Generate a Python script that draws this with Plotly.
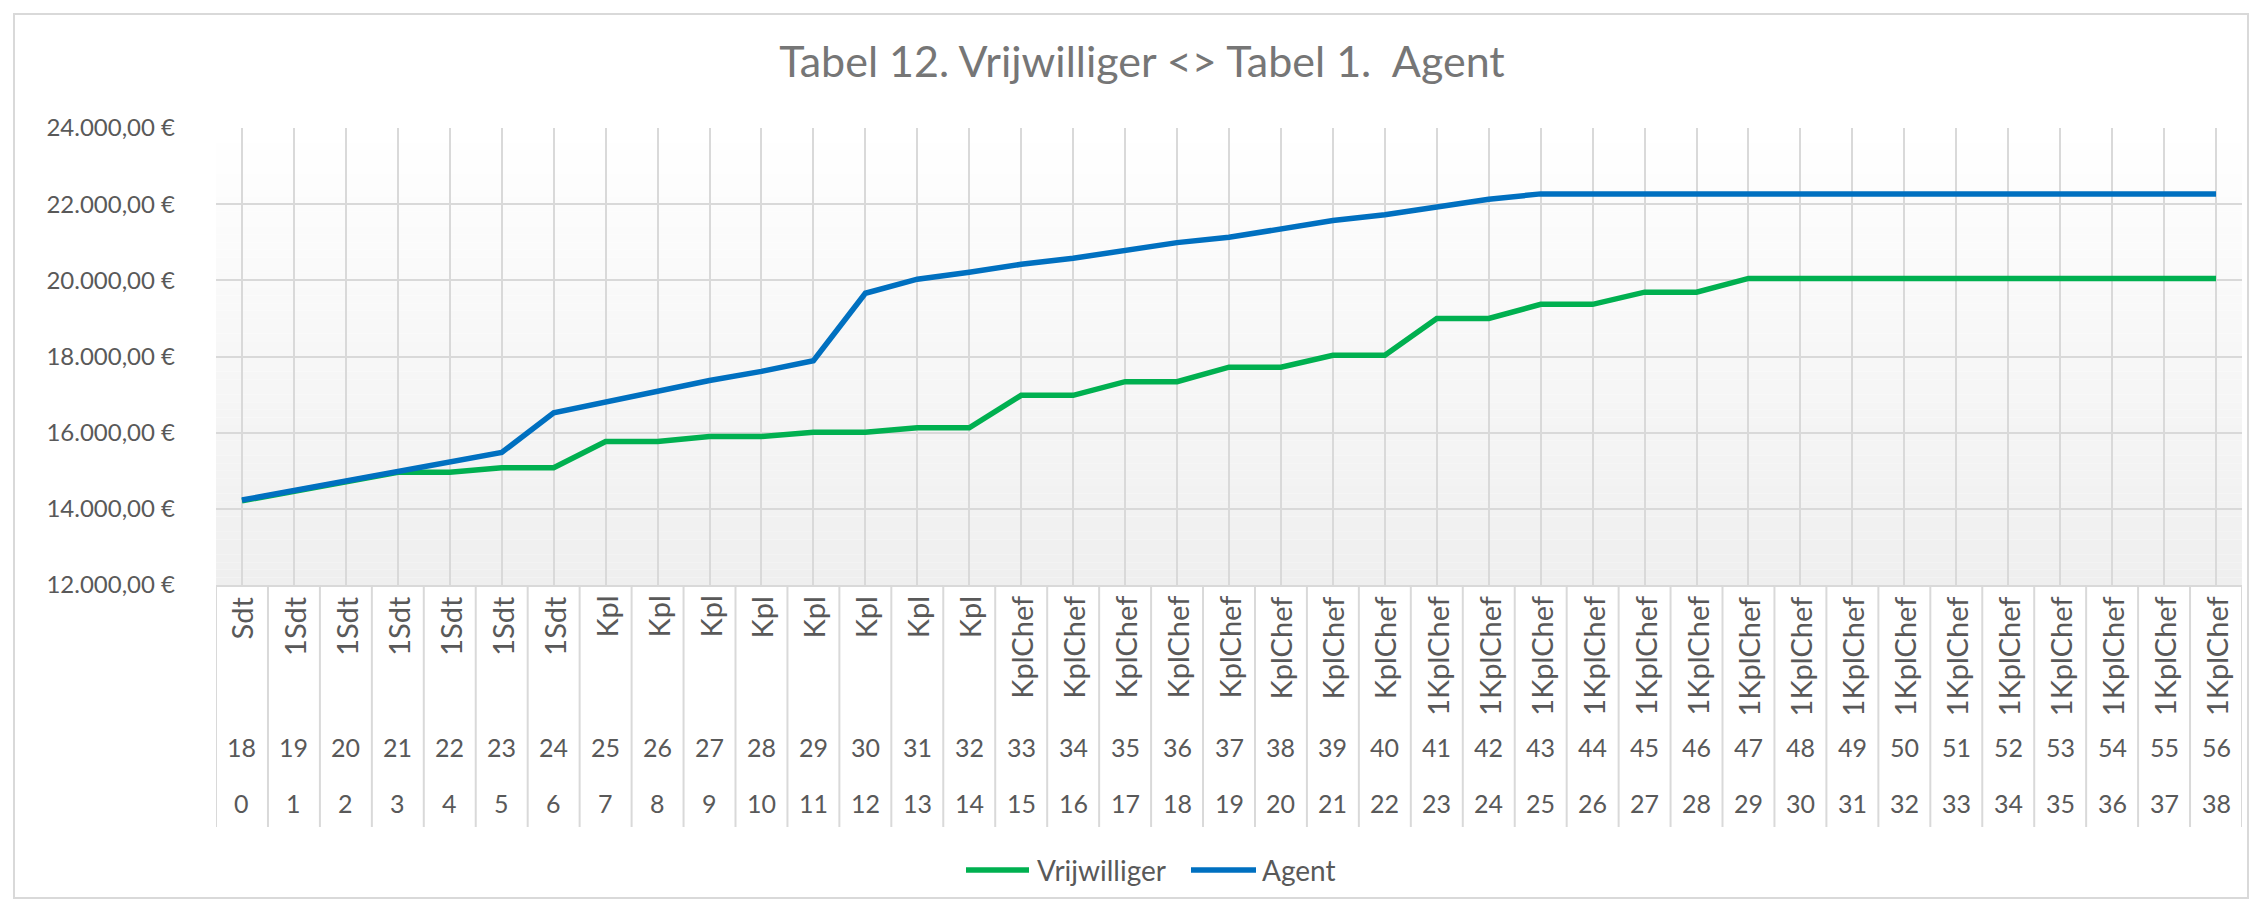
import plotly.graph_objects as go

# category rows (bottom axis)
ranks = [
    "Sdt", "1Sdt", "1Sdt", "1Sdt", "1Sdt", "1Sdt", "1Sdt",
    "Kpl", "Kpl", "Kpl", "Kpl", "Kpl", "Kpl", "Kpl", "Kpl",
    "KplChef", "KplChef", "KplChef", "KplChef", "KplChef", "KplChef", "KplChef", "KplChef",
    "1KplChef", "1KplChef", "1KplChef", "1KplChef", "1KplChef", "1KplChef", "1KplChef", "1KplChef",
    "1KplChef", "1KplChef", "1KplChef", "1KplChef", "1KplChef", "1KplChef", "1KplChef", "1KplChef",
]
ages = [18, 19, 20, 21, 22, 23, 24, 25, 26, 27, 28, 29, 30, 31, 32, 33, 34, 35, 36,
        37, 38, 39, 40, 41, 42, 43, 44, 45, 46, 47, 48, 49, 50, 51, 52, 53, 54, 55, 56]
years = [0, 1, 2, 3, 4, 5, 6, 7, 8, 9, 10, 11, 12, 13, 14, 15, 16, 17, 18, 19,
         20, 21, 22, 23, 24, 25, 26, 27, 28, 29, 30, 31, 32, 33, 34, 35, 36, 37, 38]

vrijwilliger = [
    14210, 14450, 14690, 14960, 14960, 15080, 15080, 15770, 15770, 15900,
    15900, 16010, 16010, 16130, 16130, 16980, 16980, 17340, 17340, 17720,
    17720, 18030, 18030, 19000, 19000, 19370, 19370, 19690, 19690, 20050,
    20050, 20050, 20050, 20050, 20050, 20050, 20050, 20050, 20050,
]
agent = [
    14230, 14480, 14740, 15010, 15240, 15480, 16520, 16810, 17080, 17370,
    17610, 17890, 19660, 20030, 20210, 20420, 20580, 20800, 20990, 21130,
    21340, 21570, 21720, 21920, 22130, 22270, 22270, 22270, 22270, 22270,
    22270, 22270, 22270, 22270, 22270, 22270, 22270, 22270, 22270,
]

FONT = "Lato"
TEXT = "#595959"
GRID = "#d9d9d9"
W, H = 2262, 911
OFF = 8  # page body margin
L, R, T, B = 208, 28, 120, 334
PW, PH = W - L - R, H - T - B


def px_x(p):
    # page pixel -> paper x
    return (p - OFF - L) / PW


def px_y(p):
    # page pixel -> paper y
    return (H - B - (p - OFF)) / PH


xs = list(range(len(ranks)))
fig = go.Figure()
fig.add_trace(go.Scatter(x=xs, y=vrijwilliger, mode="lines", name="Vrijwilliger",
                         line=dict(color="#00b050", width=5.5), showlegend=False))
fig.add_trace(go.Scatter(x=xs, y=agent, mode="lines", name="Agent",
                         line=dict(color="#0070c0", width=5.5), showlegend=False))

shapes = []
# plot area gradient
n = 60
for k in range(n):
    c = round(239 + (255 - 239) * (k + 0.5) / n)
    shapes.append(dict(type="rect", xref="paper", yref="paper", x0=0, x1=1,
                       y0=k / n, y1=(k + 1) / n, fillcolor=f"rgb({c},{c},{c})",
                       line_width=0, layer="below"))
# separators in label area
for i in range(len(ranks) + 1):
    shapes.append(dict(type="line", xref="x", yref="paper", x0=i - 0.5, x1=i - 0.5,
                       y0=0, y1=px_y(827), line=dict(color=GRID, width=2)))
# chart border
shapes.append(dict(type="rect", xref="paper", yref="paper", x0=px_x(14), x1=px_x(2248),
                   y0=px_y(14), y1=px_y(898), line=dict(color=GRID, width=2)))
# legend samples
shapes.append(dict(type="line", xref="paper", yref="paper", x0=px_x(966), x1=px_x(1029),
                   y0=px_y(870), y1=px_y(870), line=dict(color="#00b050", width=5.5)))
shapes.append(dict(type="line", xref="paper", yref="paper", x0=px_x(1191), x1=px_x(1256),
                   y0=px_y(870), y1=px_y(870), line=dict(color="#0070c0", width=5.5)))

annotations = []
for i in xs:
    annotations.append(dict(x=i, xref="x", y=px_y(594), yref="paper", text=ranks[i],
                             textangle=-90, showarrow=False, yanchor="top", xanchor="center",
                             font=dict(family=FONT, size=29, color=TEXT)))
    annotations.append(dict(x=i, xref="x", y=px_y(747), yref="paper", text=str(ages[i]),
                             showarrow=False, yanchor="middle", xanchor="center",
                             font=dict(family=FONT, size=25, color=TEXT)))
    annotations.append(dict(x=i, xref="x", y=px_y(803), yref="paper", text=str(years[i]),
                             showarrow=False, yanchor="middle", xanchor="center",
                             font=dict(family=FONT, size=25, color=TEXT)))
annotations.append(dict(x=px_x(1035), xref="paper", y=px_y(870), yref="paper", text="Vrijwilliger",
                        showarrow=False, xanchor="left", yanchor="middle",
                        font=dict(family=FONT, size=28, color=TEXT)))
annotations.append(dict(x=px_x(1260), xref="paper", y=px_y(870), yref="paper", text="Agent",
                        showarrow=False, xanchor="left", yanchor="middle",
                        font=dict(family=FONT, size=28, color=TEXT)))

fig.update_layout(
    width=W, height=H,
    margin=dict(l=L, r=R, t=T, b=B),
    paper_bgcolor="white",
    plot_bgcolor="rgba(0,0,0,0)",
    separators=",.",
    title=dict(text="Tabel 12. Vrijwilliger <> Tabel 1.  Agent", x=(1142 - OFF) / W,
               xref="container", xanchor="center", y=1 - (62 - OFF) / H, yref="container",
               yanchor="middle", font=dict(family=FONT, size=43, color="#767676")),
    shapes=shapes,
    annotations=annotations,
    font=dict(family=FONT, color=TEXT),
)
fig.update_xaxes(range=[-0.5, len(ranks) - 0.5], tickvals=xs, showticklabels=False,
                 showgrid=True, gridcolor=GRID, gridwidth=2, zeroline=False,
                 showline=True, linecolor=GRID, linewidth=2, ticks="")
fig.update_yaxes(range=[12000, 24000], dtick=2000, tickformat=",.2f", ticksuffix=" €",
                 showgrid=True, gridcolor=GRID, gridwidth=2, zeroline=False, showline=False,
                 ticklabelstandoff=40, tickfont=dict(family=FONT, size=24, color=TEXT))

fig.write_html("out.html")
